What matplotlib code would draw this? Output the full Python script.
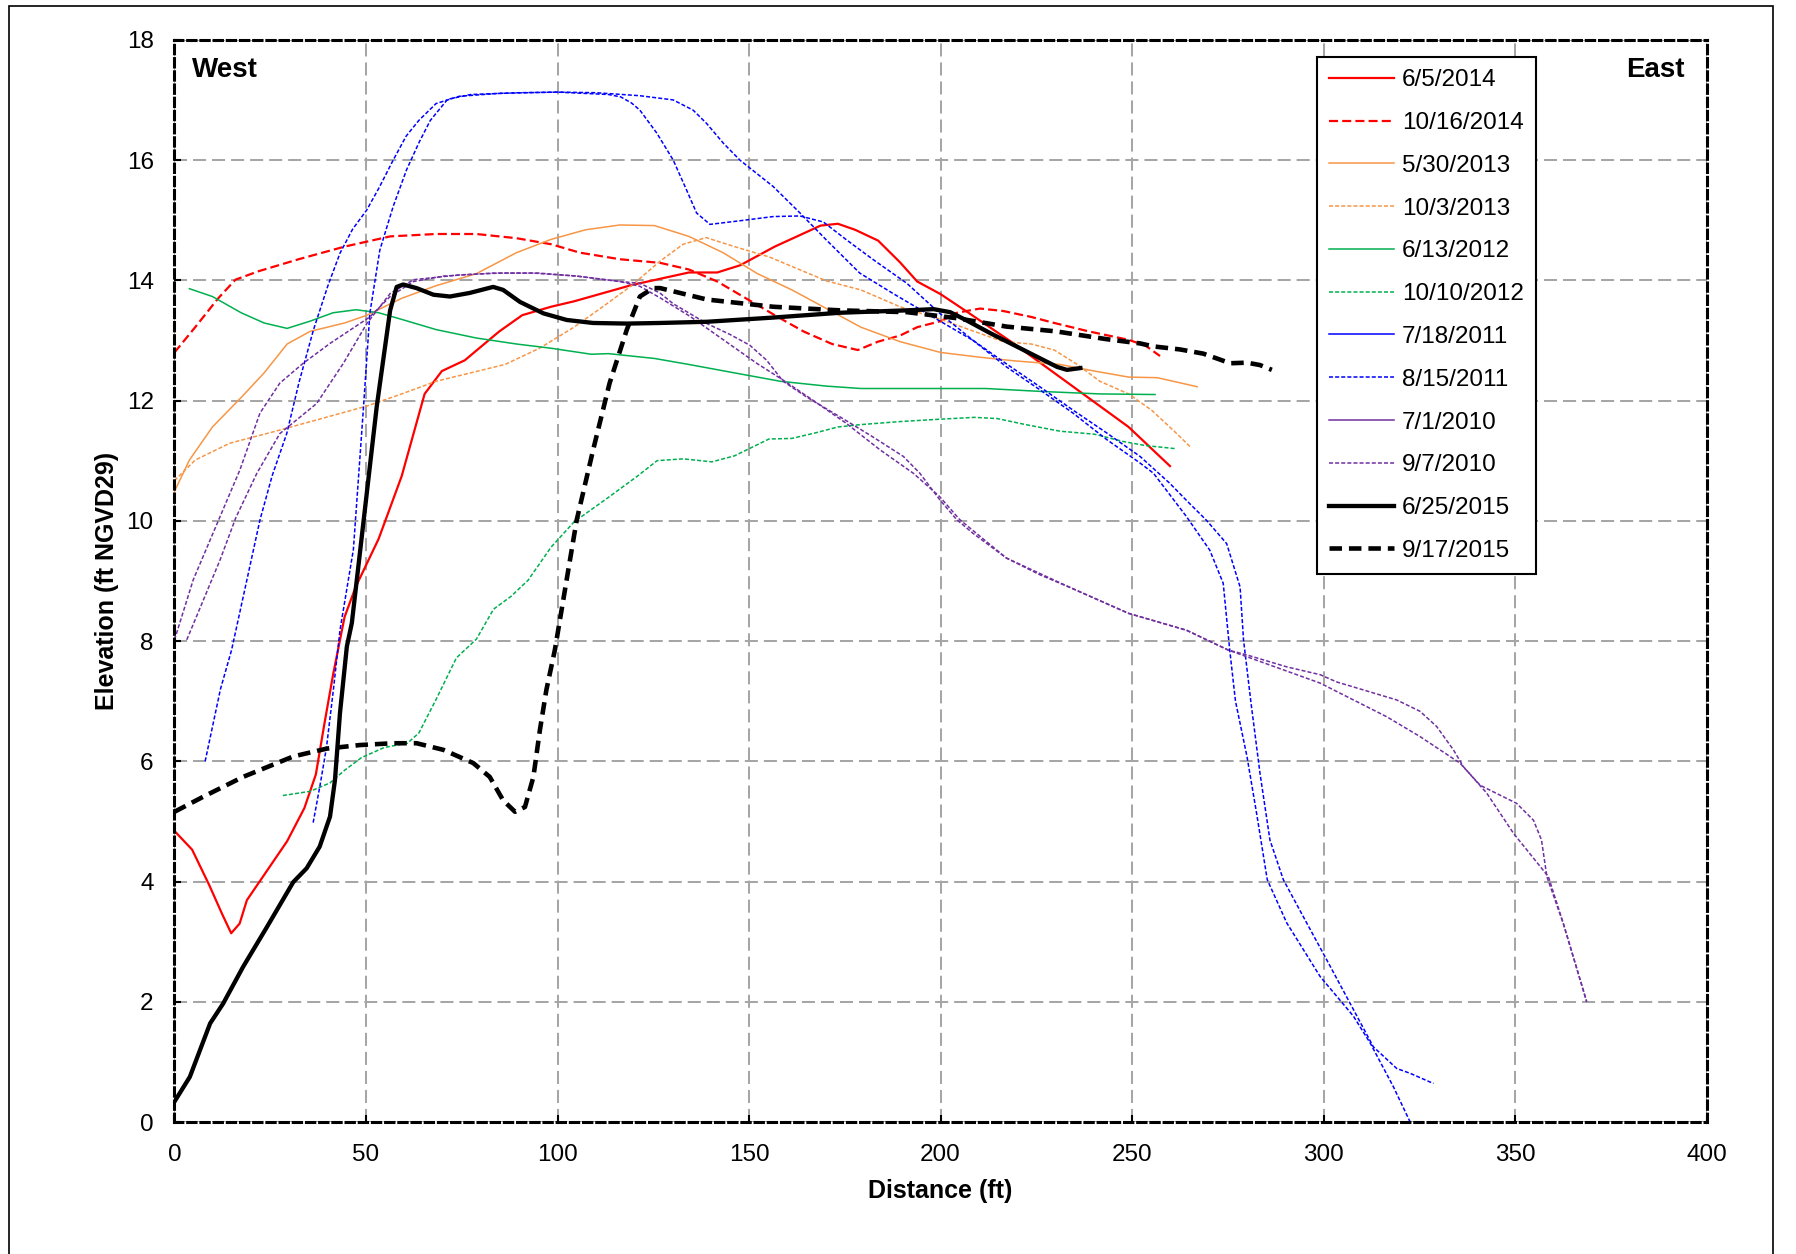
import matplotlib
matplotlib.use('Agg')
import matplotlib.pyplot as plt
from matplotlib.lines import Line2D
from matplotlib.patches import Rectangle

plt.rcParams['font.family'] = ['Liberation Sans', 'DejaVu Sans']
plt.rcParams['lines.scale_dashes'] = False

# Survey profiles: distance (ft) and elevation (ft NGVD29)
x_0605_2014 = [0, 4.6, 9, 12.5, 14.8, 17, 18.9, 24.9, 29.4, 33.9, 36.9, 39.1, 41.4, 44.4, 47.3,
               53.3, 59.3, 65.3, 69.8, 75.8, 84.8, 90.8, 98.3, 104.3, 119.3, 134.3, 141.7,
               147.7, 156.7, 168.7, 173.2, 177.7, 183.7, 189.4, 193.9, 200, 207.3, 219.3,
               234.2, 249.1, 259.9]
y_0605_2014 = [4.84, 4.53, 3.95, 3.45, 3.14, 3.3, 3.69, 4.25, 4.67, 5.22, 5.78, 6.61, 7.44, 8.4, 8.9,
               9.7, 10.74, 12.11, 12.49, 12.67, 13.15, 13.42, 13.56, 13.65, 13.92, 14.13, 14.13,
               14.25, 14.56, 14.91, 14.94, 14.84, 14.66, 14.3, 13.98, 13.77, 13.46, 12.94,
               12.25, 11.56, 10.91]

x_1016_2014 = [0, 5.4, 11.4, 15.9, 21.9, 32.4, 44.4, 56.3, 68.3, 78.8, 89.3, 98.3, 105.8, 116.3,
               126.8, 134.3, 141.7, 149.2, 156.7, 164.2, 171.7, 178.4, 183.7, 189.4, 193.9, 200,
               204.3, 210.3, 216.3, 223.7, 229.7, 238.7, 249.1, 253.6, 257.3]
y_1016_2014 = [12.8, 13.22, 13.7, 14.01, 14.15, 14.35, 14.56, 14.73, 14.77, 14.77, 14.7, 14.6, 14.46,
               14.35, 14.29, 14.18, 13.98, 13.7, 13.42, 13.15, 12.94, 12.84, 12.98, 13.08, 13.22,
               13.32, 13.46, 13.53, 13.49, 13.39, 13.29, 13.15, 13.01, 12.91, 12.74]

x_0530_2013 = [0, 3.9, 9.9, 17.4, 23.4, 29.4, 35.4, 44.4, 50.3, 59.3, 68.3, 78.8, 89.3, 98.3, 107.3,
               116.3, 125.3, 134.3, 143.2, 152.2, 161.2, 170.2, 179.2, 189.4, 200, 210.3, 219.3,
               231.2, 240.2, 249.1, 256.6, 267.0]
y_0530_2013 = [10.49, 11.01, 11.56, 12.05, 12.46, 12.94, 13.15, 13.29, 13.42, 13.7, 13.91, 14.11,
               14.46, 14.68, 14.84, 14.92, 14.91, 14.73, 14.46, 14.11, 13.84, 13.53, 13.22, 12.98,
               12.8, 12.72, 12.66, 12.6, 12.49, 12.39, 12.38, 12.23]

x_1003_2013 = [0, 5.4, 14.4, 26.4, 38.4, 50.3, 59.3, 68.3, 77.3, 86.3, 95.3, 104.3, 111.8, 119.3,
               126.8, 132.8, 138.8, 146.2, 155.2, 164.2, 170.2, 179.2, 189.4, 200, 208.8, 216.3,
               223.7, 229.7, 235.7, 241.6, 249.1, 255.1, 261.0, 265.2]
y_1003_2013 = [10.67, 11.01, 11.29, 11.49, 11.7, 11.91, 12.11, 12.32, 12.46, 12.6, 12.87, 13.22,
               13.56, 13.91, 14.32, 14.6, 14.71, 14.56, 14.39, 14.15, 13.99, 13.84, 13.56, 13.35,
               13.15, 12.98, 12.94, 12.84, 12.6, 12.32, 12.11, 11.84, 11.49, 11.23]

x_0613_2012 = [3.9, 9.9, 17.4, 23.4, 29.4, 35.4, 41.4, 47.4, 53.3, 59.3, 68.3, 78.8, 89.3, 98.3,
               108.8, 113.3, 117.8, 125.3, 134.3, 146.2, 158.2, 170.2, 179.2, 189.4, 200, 211.8,
               226.7, 241.6, 256.0]
y_0613_2012 = [13.86, 13.73, 13.46, 13.29, 13.2, 13.32, 13.46, 13.51, 13.46, 13.35, 13.18, 13.04,
               12.94, 12.87, 12.77, 12.78, 12.75, 12.7, 12.6, 12.46, 12.32, 12.24, 12.2, 12.2,
               12.2, 12.2, 12.15, 12.11, 12.1]

x_1010_2012 = [28.3, 35.4, 40.6, 44.4, 48.8, 54.8, 60.8, 63.8, 68.3, 73.6, 78.8, 83.3, 87.8, 92.3,
               98.3, 104.3, 113.3, 120.8, 126.0, 132.8, 140.3, 146.2, 150.7, 155.2, 161.2, 167.2,
               173.2, 179.2, 189.4, 200, 208.8, 214.8, 222.2, 231.2, 240.2, 247.6, 253.6, 261.3]
y_1010_2012 = [5.43, 5.5, 5.64, 5.85, 6.06, 6.23, 6.3, 6.47, 7.03, 7.72, 8.03, 8.53, 8.74, 9.01,
               9.56, 9.98, 10.39, 10.74, 11.0, 11.03, 10.98, 11.08, 11.22, 11.36, 11.37, 11.46,
               11.56, 11.6, 11.65, 11.69, 11.72, 11.7, 11.6, 11.49, 11.44, 11.32, 11.25, 11.2]

x_0718_2011 = [8.0, 12, 14.9, 18.5, 22.3, 25.5, 29.3, 32.5, 36.3, 40, 43.2, 46.5, 50.2, 53.5, 57.1,
               60.5, 63.8, 68.3, 74.3, 84.8, 99.8, 110, 121.5, 130.2, 135.4, 138.9, 143.3, 147.6,
               156.3, 163.3, 170.2, 178.9, 187.6, 198.0, 208.5, 217.2, 225.9, 234.6, 243.4,
               252.1, 259.9, 264.5, 269.4, 274.7, 278.2, 279.1, 281.0, 283.4, 286.0, 289.5,
               295.6, 300.8, 307.8, 313.0, 319.1, 322.6, 328.7]
y_0718_2011 = [6.0, 7.2, 7.85, 8.9, 10.01, 10.75, 11.45, 12.3, 13.18, 13.9, 14.45, 14.85, 15.17,
               15.55, 16.0, 16.4, 16.66, 16.94, 17.06, 17.11, 17.13, 17.12, 17.07, 17.0, 16.83,
               16.61, 16.28, 16.0, 15.56, 15.12, 14.67, 14.12, 13.78, 13.39, 13.0, 12.61, 12.23,
               11.84, 11.46, 11.07, 10.62, 10.32, 10.01, 9.62, 8.9, 8.02, 7.0, 5.8, 4.69, 4.03,
               3.31, 2.7, 1.87, 1.25, 0.89, 0.81, 0.64]

x_0815_2011 = [36.2, 38, 39.7, 41.5, 43.2, 46.7, 49.3, 51.0, 53.6, 57.1, 60.6, 63.9, 66.8, 71.3,
               77.3, 90, 100, 113.3, 116.5, 119.3, 121.5, 125.9, 130.2, 133.7, 136.3, 139.8,
               147.6, 156.3, 163.3, 169.4, 175.5, 182.5, 191.2, 199.8, 208.5, 217.2, 225.9,
               234.6, 243.4, 252.1, 255.6, 264.2, 270.3, 273.8, 275.5, 277, 280.0, 282.5, 285.3,
               290.4, 299.1, 307.8, 312.2, 318.2, 322.6]
y_0815_2011 = [4.98, 5.6, 6.24, 7.2, 8.18, 9.52, 11.85, 13.45, 14.5, 15.23, 15.84, 16.3, 16.66,
               17.01, 17.09, 17.12, 17.13, 17.09, 17.05, 16.95, 16.83, 16.45, 16.0, 15.5, 15.12,
               14.93, 14.99, 15.06, 15.07, 14.97, 14.67, 14.34, 13.95, 13.45, 13.0, 12.56, 12.18,
               11.79, 11.35, 10.96, 10.79, 10.07, 9.51, 8.96, 7.85, 7.0, 6.08, 5.14, 4.03, 3.31,
               2.42, 1.76, 1.31, 0.59, 0.0]

x_0701_2010 = [0, 4.9, 11.9, 17.1, 22.3, 27.5, 33.6, 40.6, 45.8, 51.0, 56.3, 62.4, 70.2, 83.2, 93.7,
               105.0, 116.3, 121.5, 126.7, 130.2, 139.0, 145, 150.2, 154.6, 158.9, 165.0, 173.7,
               182.2, 190.3, 194.6, 199.8, 204.2, 208.5, 217.2, 226, 234.2, 249.1, 264.2, 275.1,
               279.9, 290.4, 299.1, 303.4, 319.1, 325.2, 329.5, 333.9, 336.5, 342.6, 349.6,
               358.7, 362.6, 368.7]
y_0701_2010 = [8.02, 9.02, 10.07, 10.85, 11.79, 12.29, 12.62, 12.95, 13.17, 13.39, 13.73, 13.98,
               14.07, 14.12, 14.12, 14.07, 13.98, 13.95, 13.79, 13.61, 13.28, 13.1, 12.92, 12.67,
               12.32, 12.06, 11.73, 11.4, 11.07, 10.79, 10.35, 10.02, 9.79, 9.38, 9.1, 8.88, 8.46,
               8.18, 7.85, 7.77, 7.57, 7.44, 7.32, 7.02, 6.83, 6.58, 6.19, 5.91, 5.47, 4.8, 4.08,
               3.3, 2.0]

x_0907_2010 = [3.2, 7, 11.9, 16, 21.5, 27.5, 37.1, 44.1, 50.2, 56.3, 62.4, 74.5, 85, 95, 105, 116.3,
               121.5, 127, 134.6, 143.3, 152.0, 158.9, 166.8, 175.4, 184.2, 192.9, 199.8, 205.0,
               217.2, 234.2, 249.1, 264.2, 275.1, 290.4, 299.1, 316.5, 325.2, 335.6, 340.9,
               350.4, 354.8, 356.9, 358.3, 362.6, 368.7]
y_0907_2010 = [8.02, 8.6, 9.35, 10.05, 10.79, 11.45, 11.95, 12.62, 13.28, 13.78, 14.01, 14.09,
               14.12, 14.12, 14.07, 13.98, 13.9, 13.7, 13.4, 13.01, 12.62, 12.34, 12.0, 11.62,
               11.18, 10.79, 10.4, 10.02, 9.38, 8.88, 8.46, 8.18, 7.85, 7.5, 7.3, 6.74, 6.41,
               5.97, 5.6, 5.3, 5.02, 4.69, 4.08, 3.3, 2.0]

x_0625_2015 = [0, 4.0, 9.3, 12.7, 17.9, 24.1, 31.0, 34.5, 37.9, 40.6, 41.9, 43.2, 45.0, 46.3, 49.3,
               52.8, 56.3, 58.0, 59.7, 63.2, 67.6, 71.9, 77.1, 83.2, 85.8, 90.2, 96.3, 102.4,
               109.3, 118.1, 126.7, 139.0, 156.3, 173.7, 191.2, 198.2, 202.5, 206.9, 213.0,
               221.7, 230.4, 233.0, 236.5]
y_0625_2015 = [0.34, 0.75, 1.64, 1.97, 2.58, 3.24, 3.99, 4.22, 4.58, 5.08, 5.69, 6.8, 7.91, 8.3,
               9.96, 11.9, 13.5, 13.89, 13.93, 13.87, 13.76, 13.73, 13.79, 13.89, 13.84, 13.64,
               13.45, 13.34, 13.29, 13.28, 13.29, 13.31, 13.38, 13.46, 13.5, 13.52, 13.47, 13.33,
               13.12, 12.84, 12.56, 12.51, 12.54]

x_0917_2015 = [0, 7.5, 17.9, 31.0, 39.7, 48.4, 57.1, 63.2, 70.2, 78.0, 82.3, 85.8, 88.9, 91.5,
               93.7, 95.4, 97.1, 99.3, 105.0, 109.3, 113.6, 118.1, 121.5, 125.0, 126.8, 139.0,
               156.3, 173.7, 191.2, 204.2, 217.2, 230.2, 243.4, 252.1, 255.6, 262.5, 268.6,
               273.0, 275.6, 280.0, 283.4, 286.5]
y_0917_2015 = [5.16, 5.41, 5.74, 6.08, 6.21, 6.27, 6.3, 6.3, 6.19, 5.97, 5.74, 5.35, 5.16, 5.24,
               5.74, 6.52, 7.19, 7.85, 10.01, 11.18, 12.29, 13.18, 13.73, 13.87, 13.87, 13.68,
               13.56, 13.5, 13.47, 13.37, 13.23, 13.15, 13.02, 12.95, 12.9, 12.85, 12.78, 12.68,
               12.62, 12.63, 12.59, 12.51]

labels = ['6/5/2014', '10/16/2014', '5/30/2013', '10/3/2013', '6/13/2012', '10/10/2012',
          '7/18/2011', '8/15/2011', '7/1/2010', '9/7/2010', '6/25/2015', '9/17/2015']

thin_dash = (0, (2.9, 1.5))
series = [
    (x_0605_2014, y_0605_2014, '#FF0000', 1.6, '-', '-'),
    (x_1016_2014, y_1016_2014, '#FF0000', 1.6, (0, (6.5, 3)), (0, (6.5, 3))),
    (x_0530_2013, y_0530_2013, '#F79646', 1.1, '-', '-'),
    (x_1003_2013, y_1003_2013, '#F79646', 1.1, thin_dash, thin_dash),
    (x_0613_2012, y_0613_2012, '#00B050', 1.1, '-', '-'),
    (x_1010_2012, y_1010_2012, '#00B050', 1.1, thin_dash, thin_dash),
    (x_0718_2011, y_0718_2011, '#0000FF', 1.1, thin_dash, '-'),
    (x_0815_2011, y_0815_2011, '#0000FF', 1.1, thin_dash, thin_dash),
    (x_0701_2010, y_0701_2010, '#7030A0', 1.1, thin_dash, '-'),
    (x_0907_2010, y_0907_2010, '#7030A0', 1.1, thin_dash, thin_dash),
    (x_0625_2015, y_0625_2015, 'black', 3.1, '-', '-'),
    (x_0917_2015, y_0917_2015, 'black', 3.3, (0, (9, 5)), (0, (9, 5))),
]

fig = plt.figure(figsize=(17.96, 12.54), dpi=100)
ax = fig.add_axes([0.09716, 0.10526, 0.85306, 0.8630])

handles = []
for (xs, ys, col, lw, ls, leg_ls), lab in zip(series, labels):
    ax.plot(xs, ys, color=col, linewidth=lw, linestyle=ls, zorder=3)
    handles.append(Line2D([], [], color=col, linewidth=lw, linestyle=leg_ls))

ax.set_xlim(0, 400)
ax.set_ylim(0, 18)
ax.set_xticks(range(0, 401, 50))
ax.set_yticks(range(0, 19, 2))
ax.tick_params(direction='in', length=5, width=1.5, labelsize=17.5)
ax.tick_params(axis='x', pad=16)
ax.tick_params(axis='y', pad=15)

ax.grid(True, color='#A6A6A6', linestyle=(0, (9.4, 4.3)), linewidth=1.45, zorder=0)
ax.set_axisbelow(True)

for s in ax.spines.values():
    s.set_linestyle((0, (6, 3.5)))
    s.set_linewidth(2.2)
    s.set_zorder(4)

ax.set_xlabel('Distance (ft)', fontsize=18, fontweight='bold')
ax.set_ylabel('Elevation (ft NGVD29)', fontsize=18, fontweight='bold')
ax.xaxis.set_label_coords(0.5, -0.0525)
ax.yaxis.set_label_coords(-0.036, 0.5)

ax.text(0.0117, 0.9723, 'West', transform=ax.transAxes, fontsize=20, fontweight='bold',
        ha='left', va='center')
ax.text(0.9859, 0.9723, 'East', transform=ax.transAxes, fontsize=20, fontweight='bold',
        ha='right', va='center')

leg = fig.legend(handles, labels, loc='upper left', bbox_to_anchor=(0.7333, 0.9545),
                 borderaxespad=0, fontsize=17.5, frameon=True, fancybox=False,
                 edgecolor='black', framealpha=1, handlelength=2.67, handletextpad=0.32,
                 labelspacing=0.855, borderpad=0.5)
leg.get_frame().set_linewidth(1.5)

# outer border of the figure
fig.add_artist(Rectangle((9 / 1796, -0.02), (1773 - 9) / 1796, 1.02 - 6 / 1254,
                         transform=fig.transFigure, fill=False, linewidth=1.2,
                         edgecolor='black'))

fig.savefig('out.png', dpi=100)
